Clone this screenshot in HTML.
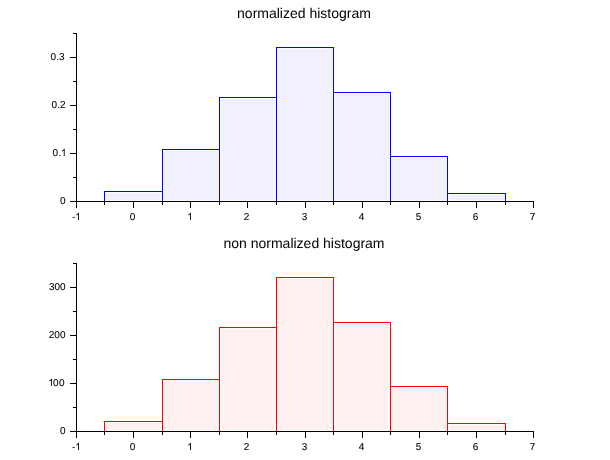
<!DOCTYPE html>
<html><head><meta charset="utf-8"><title>histogram</title>
<style>
html,body{margin:0;padding:0;background:#fff;overflow:hidden;}
svg{display:block;position:absolute;left:0;top:0;will-change:transform;}
.t{font-family:"Liberation Sans",sans-serif;font-size:10px;fill:#000;text-rendering:geometricPrecision;stroke:#000;stroke-width:0.09px;}
.ti{font-family:"Liberation Sans",sans-serif;font-size:14px;fill:#000;text-rendering:geometricPrecision;}
.one{fill:#000;shape-rendering:geometricPrecision;}
</style></head><body>
<svg width="610" height="460" viewBox="0 0 610 460" shape-rendering="crispEdges">
<rect width="610" height="460" fill="#fff"/>
<rect x="105" y="192" width="57" height="9" fill="#fbfbff"/>
<rect x="106" y="193" width="55" height="7" fill="#f0f0ff"/>
<rect x="163" y="150" width="56" height="51" fill="#fbfbff"/>
<rect x="164" y="151" width="54" height="49" fill="#f0f0ff"/>
<rect x="220" y="98" width="56" height="103" fill="#fbfbff"/>
<rect x="221" y="99" width="54" height="101" fill="#f0f0ff"/>
<rect x="277" y="48" width="56" height="153" fill="#fbfbff"/>
<rect x="278" y="49" width="54" height="151" fill="#f0f0ff"/>
<rect x="334" y="93" width="56" height="108" fill="#fbfbff"/>
<rect x="335" y="94" width="54" height="106" fill="#f0f0ff"/>
<rect x="391" y="157" width="56" height="44" fill="#fbfbff"/>
<rect x="392" y="158" width="54" height="42" fill="#f0f0ff"/>
<rect x="448" y="194" width="57" height="7" fill="#fbfbff"/>
<rect x="449" y="195" width="55" height="5" fill="#f0f0ff"/>
<path d="M104.5 201V191.5H162.5V201M162.5 201V149.5H219.5V201M219.5 201V97.5H276.5V201M276.5 201V47.5H333.5V201M333.5 201V92.5H390.5V201M390.5 201V156.5H447.5V201M447.5 201V193.5H505.5V201" stroke="#0000ff" stroke-width="1" fill="none" stroke-linecap="square"/>
<path d="M76.5 33V202M70 201.5H534" stroke="#000" stroke-width="1" fill="none"/>
<path d="M76.5 201V208M133.5 201V208M190.5 201V208M247.5 201V208M305.5 201V208M362.5 201V208M419.5 201V208M476.5 201V208M533.5 201V208M104.5 201V205M162.5 201V205M219.5 201V205M276.5 201V205M333.5 201V205M390.5 201V205M447.5 201V205M505.5 201V205M70 201.5H77M70 153.5H77M70 105.5H77M70 57.5H77M73 177.5H77M73 129.5H77M73 81.5H77M73 33.5H77" stroke="#000" stroke-width="1" fill="none"/>
<text x="71.9" y="220" class="t">-</text><path class="one" transform="translate(75.23 220) scale(0.0048828 -0.0048828)" d="M763 0H583V1147Q518 1085 412.5 1023Q307 961 223 930V1104Q374 1175 487 1276Q600 1377 647 1472H763Z"/>
<text x="129.72" y="220" class="t">0</text>
<path class="one" transform="translate(187.2 220) scale(0.0048828 -0.0048828)" d="M763 0H583V1147Q518 1085 412.5 1023Q307 961 223 930V1104Q374 1175 487 1276Q600 1377 647 1472H763Z"/>
<text x="243.72" y="220" class="t">2</text>
<text x="301.72" y="220" class="t">3</text>
<text x="358.72" y="220" class="t">4</text>
<text x="415.72" y="220" class="t">5</text>
<text x="472.72" y="220" class="t">6</text>
<text x="529.72" y="220" class="t">7</text>
<text x="59.94" y="204" class="t">0</text>
<text x="52.6" y="156" class="t">0.</text><path class="one" transform="translate(60.94 156) scale(0.0048828 -0.0048828)" d="M763 0H583V1147Q518 1085 412.5 1023Q307 961 223 930V1104Q374 1175 487 1276Q600 1377 647 1472H763Z"/>
<text x="51.6" y="108" class="t">0.2</text>
<text x="50.6" y="60" class="t">0.3</text>
<text x="304" y="18" text-anchor="middle" class="ti">normalized histogram</text>
<rect x="105" y="422" width="57" height="9" fill="#fffbfb"/>
<rect x="106" y="423" width="55" height="7" fill="#fff0f0"/>
<rect x="163" y="380" width="56" height="51" fill="#fffbfb"/>
<rect x="164" y="381" width="54" height="49" fill="#fff0f0"/>
<rect x="220" y="328" width="56" height="103" fill="#fffbfb"/>
<rect x="221" y="329" width="54" height="101" fill="#fff0f0"/>
<rect x="277" y="278" width="56" height="153" fill="#fffbfb"/>
<rect x="278" y="279" width="54" height="151" fill="#fff0f0"/>
<rect x="334" y="323" width="56" height="108" fill="#fffbfb"/>
<rect x="335" y="324" width="54" height="106" fill="#fff0f0"/>
<rect x="391" y="387" width="56" height="44" fill="#fffbfb"/>
<rect x="392" y="388" width="54" height="42" fill="#fff0f0"/>
<rect x="448" y="424" width="57" height="7" fill="#fffbfb"/>
<rect x="449" y="425" width="55" height="5" fill="#fff0f0"/>
<path d="M104.5 431V421.5H162.5V431M162.5 431V379.5H219.5V431M219.5 431V327.5H276.5V431M276.5 431V277.5H333.5V431M333.5 431V322.5H390.5V431M390.5 431V386.5H447.5V431M447.5 431V423.5H505.5V431" stroke="#ff0000" stroke-width="1" fill="none" stroke-linecap="square"/>
<path d="M76.5 263V432M70 431.5H534" stroke="#000" stroke-width="1" fill="none"/>
<path d="M76.5 431V438M133.5 431V438M190.5 431V438M247.5 431V438M305.5 431V438M362.5 431V438M419.5 431V438M476.5 431V438M533.5 431V438M104.5 431V435M162.5 431V435M219.5 431V435M276.5 431V435M333.5 431V435M390.5 431V435M447.5 431V435M505.5 431V435M70 431.5H77M70 383.5H77M70 335.5H77M70 287.5H77M73 407.5H77M73 359.5H77M73 311.5H77M73 263.5H77" stroke="#000" stroke-width="1" fill="none"/>
<text x="71.9" y="450" class="t">-</text><path class="one" transform="translate(75.23 450) scale(0.0048828 -0.0048828)" d="M763 0H583V1147Q518 1085 412.5 1023Q307 961 223 930V1104Q374 1175 487 1276Q600 1377 647 1472H763Z"/>
<text x="129.72" y="450" class="t">0</text>
<path class="one" transform="translate(187.2 450) scale(0.0048828 -0.0048828)" d="M763 0H583V1147Q518 1085 412.5 1023Q307 961 223 930V1104Q374 1175 487 1276Q600 1377 647 1472H763Z"/>
<text x="243.72" y="450" class="t">2</text>
<text x="301.72" y="450" class="t">3</text>
<text x="358.72" y="450" class="t">4</text>
<text x="415.72" y="450" class="t">5</text>
<text x="472.72" y="450" class="t">6</text>
<text x="529.72" y="450" class="t">7</text>
<text x="59.94" y="434" class="t">0</text>
<path class="one" transform="translate(48.2 386) scale(0.0048828 -0.0048828)" d="M763 0H583V1147Q518 1085 412.5 1023Q307 961 223 930V1104Q374 1175 487 1276Q600 1377 647 1472H763Z"/><text x="53.1" y="386" class="t">0</text><text x="59.1" y="386" class="t">0</text>
<text x="48.82" y="338" class="t">200</text>
<text x="48.92" y="290" class="t">300</text>
<text x="304" y="248" text-anchor="middle" class="ti">non normalized histogram</text>
</svg>
</body></html>
